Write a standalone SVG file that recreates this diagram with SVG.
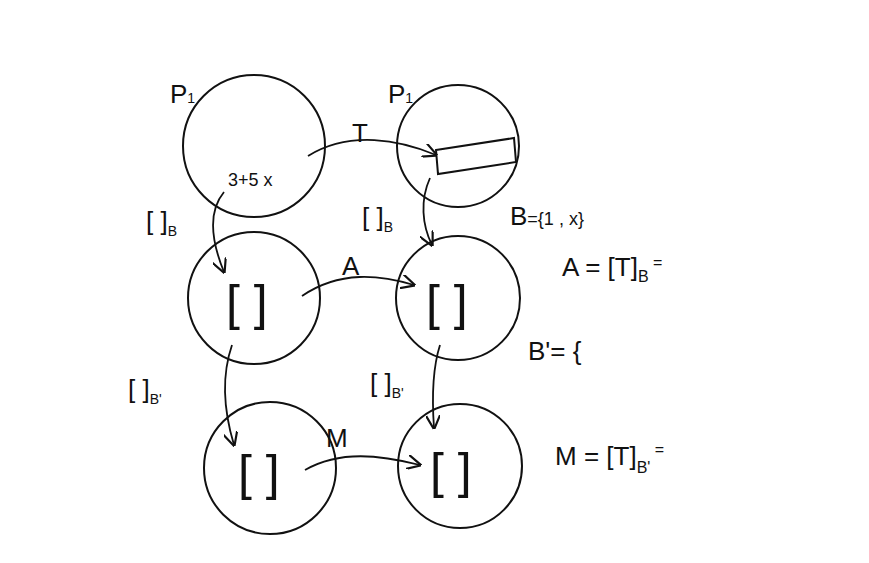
<svg xmlns="http://www.w3.org/2000/svg" width="869" height="563" viewBox="0 0 869 563">
<defs>
<marker id="ah" viewBox="0 0 10 10" refX="9" refY="5" markerWidth="8" markerHeight="8" orient="auto-start-reverse"><path d="M0,0 L10,5 L0,10" fill="none" stroke="#111" stroke-width="1.5"/></marker>
</defs>
<style>
.c{fill:none;stroke:#111;stroke-width:2}
.a{fill:none;stroke:#111;stroke-width:1.8;marker-end:url(#ah)}
text{font-family:"Liberation Sans",sans-serif;fill:#111}
.m{font-size:26px}
.b{font-size:50px;font-weight:100}
.s{font-size:18px}
</style>
<rect width="869" height="563" fill="#fff"/>
<g id="n1"><circle class="c" cx="254" cy="146" r="71"/><text class="s" x="228" y="186">3+5 x</text></g>
<g id="n2"><circle class="c" cx="458" cy="146" r="61"/><polygon class="c" points="436,150 514,138 516,162 438,174"/></g>
<g id="n3"><circle class="c" cx="254" cy="298" r="66"/><text class="b" x="226" y="320">[ ]</text></g>
<g id="n4"><circle class="c" cx="458" cy="298" r="62"/><text class="b" x="426" y="320">[ ]</text></g>
<g id="n5"><circle class="c" cx="270" cy="468" r="66"/><text class="b" x="238" y="490">[ ]</text></g>
<g id="n6"><circle class="c" cx="460" cy="466" r="62"/><text class="b" x="430" y="488">[ ]</text></g>
<g id="edges">
<path class="a" d="M308,156 C350,130 400,140 436,155"/>
<path class="a" d="M224,192 C205,215 215,250 224,272"/>
<path class="a" d="M430,178 C420,200 422,225 432,245"/>
<path class="a" d="M302,296 C340,270 380,275 414,285"/>
<path class="a" d="M232,345 C220,380 225,415 234,445"/>
<path class="a" d="M440,345 C432,370 432,400 434,428"/>
<path class="a" d="M305,470 C340,450 380,455 420,465"/>
</g>
<g id="labels">
<text class="m" x="170" y="103">P<tspan font-size="14">1</tspan></text>
<text class="m" x="388" y="103">P<tspan font-size="14">1</tspan></text>
<text class="m" x="352" y="142">T</text>
<text class="m" x="342" y="275">A</text>
<text class="m" x="326" y="447">M</text>
<text class="m" x="146" y="230">[ ]<tspan font-size="14" dy="6">B</tspan></text>
<text class="m" x="362" y="226">[ ]<tspan font-size="14" dy="6">B</tspan></text>
<text class="m" x="128" y="398">[ ]<tspan font-size="14" dy="6">B'</tspan></text>
<text class="m" x="370" y="392">[ ]<tspan font-size="14" dy="6">B'</tspan></text>
<text class="m" x="510" y="225">B<tspan font-size="18">={1 , x}</tspan></text>
<text class="m" x="562" y="276">A = [T]<tspan font-size="16" dy="6">B</tspan><tspan font-size="16" dy="-14"> =</tspan></text>
<text class="m" x="528" y="360">B'= {</text>
<text class="m" x="555" y="465">M = [T]<tspan font-size="16" dy="8">B'</tspan><tspan font-size="16" dy="-18"> =</tspan></text>
</g>
</svg>
